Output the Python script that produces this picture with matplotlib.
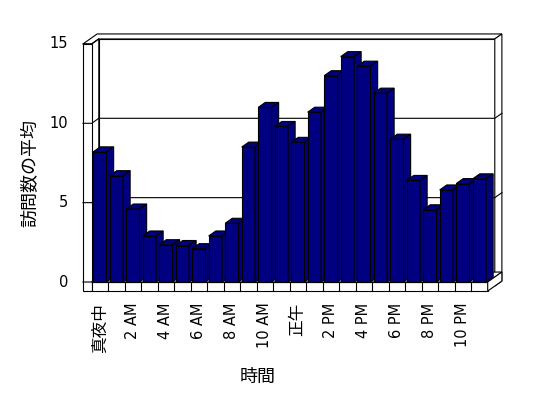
import numpy as np
import matplotlib
matplotlib.use("Agg")
import matplotlib.pyplot as plt
from matplotlib.patches import Polygon

plt.rcParams['font.family'] = ['Noto Sans CJK JP', 'DejaVu Sans']

# average visits per hour
hours = ['真夜中', '', '2 AM', '', '4 AM', '', '6 AM', '', '8 AM', '', '10 AM', '',
         '正午', '', '2 PM', '', '4 PM', '', '6 PM', '', '8 PM', '', '10 PM', '']
visits = [8.2, 6.7, 4.6, 2.9, 2.35, 2.3, 2.1, 2.9, 3.7, 8.5, 11.0, 9.8,
          8.8, 10.7, 13.0, 14.2, 13.6, 11.9, 9.0, 6.4, 4.55, 5.8, 6.2, 6.5]
yticks = [0, 5, 10, 15]
ylabel = '訪問数の平均'
xlabel = '時間'

n = len(visits)
ymax = 15
dx, dy = 0.43, 0.315      # depth step (floor front -> back wall)
wall = 0.53               # left wall thickness
floor = 0.57              # floor thickness
bar_color = '#000080'
lw = 0.8

fig = plt.figure(figsize=(5.48, 3.98), dpi=100)
ax = fig.add_axes([0, 0, 1, 1])
ax.set_xlim(-5.558, 27.655)
ax.set_ylim(-7.309, 17.769)
ax.axis('off')


def poly(pts, fc='white', z=1):
    ax.add_patch(Polygon(pts, closed=True, facecolor=fc, edgecolor='black',
                         linewidth=lw, zorder=z, joinstyle='miter'))


# back wall (front face, top, right end)
bx0, bx1 = dx, n + dx
poly([(bx0, dy), (bx1, dy), (bx1, ymax + dy), (bx0, ymax + dy)])
poly([(-wall, ymax), (0, ymax), (dx, ymax + dy), (bx1, ymax + dy),
      (bx1 + dx, ymax + 2 * dy), (-wall + 2 * dx, ymax + 2 * dy)])
poly([(bx1, dy - floor), (bx1 + dx, 2 * dy - floor), (bx1 + dx, ymax + 2 * dy),
      (bx1, ymax + dy)])
for v in yticks[1:-1]:
    ax.plot([bx0, bx1, bx1 + dx], [v + dy, v + dy, v + 2 * dy], color='black', lw=lw, zorder=1.5)

# left wall
poly([(0, 0), (dx, dy), (dx, ymax + dy), (0, ymax)], z=2)
poly([(-wall, -floor), (0, -floor), (0, ymax), (-wall, ymax)], z=2)
for v in yticks:
    ax.plot([-wall, 0, dx], [v, v, v + dy], color='black', lw=lw, zorder=2.5)

# floor
poly([(0, 0), (n, 0), (n + 2 * dx, 2 * dy), (dx, dy)], z=2)
poly([(0, -floor), (n, -floor), (n, 0), (0, 0)], z=2)
poly([(n, -floor), (n + 2 * dx, 2 * dy - floor), (n + 2 * dx, 2 * dy), (n, 0)], z=2)
for i in range(1, n):
    ax.plot([i, i], [-floor, 0], color='black', lw=lw, zorder=2.5)

# bars
for i, v in enumerate(visits):
    x0, x1 = i + 0.09, i + 0.9
    z = 3 + i * 0.01
    poly([(x0, 0), (x1, 0), (x1, v), (x0, v)], bar_color, z)
    poly([(x0, v), (x1, v), (x1 + dx, v + dy), (x0 + dx, v + dy)], bar_color, z)
    poly([(x1, 0), (x1 + dx, dy), (x1 + dx, v + dy), (x1, v)], bar_color, z)

# labels
for v in yticks:
    ax.text(-1.42, v, str(v), ha='right', va='center', fontsize=10.5, family=['DejaVu Sans'])
for i, lab in enumerate(hours):
    if not lab:
        continue
    if lab.isascii():
        ax.text(i + 0.5, -1.3, lab, rotation=90, ha='center', va='top', fontsize=10.5,
                family=['DejaVu Sans'])
    else:
        ax.text(i + 0.5, -1.3, lab, rotation=90, ha='center', va='top', fontsize=12)
ax.text(-3.74, 6.85, ylabel, rotation=90, ha='center', va='center', fontsize=13)
ax.text(10.08, -5.99, xlabel, ha='center', va='center', fontsize=13)

fig.savefig('out.png', dpi=100)
